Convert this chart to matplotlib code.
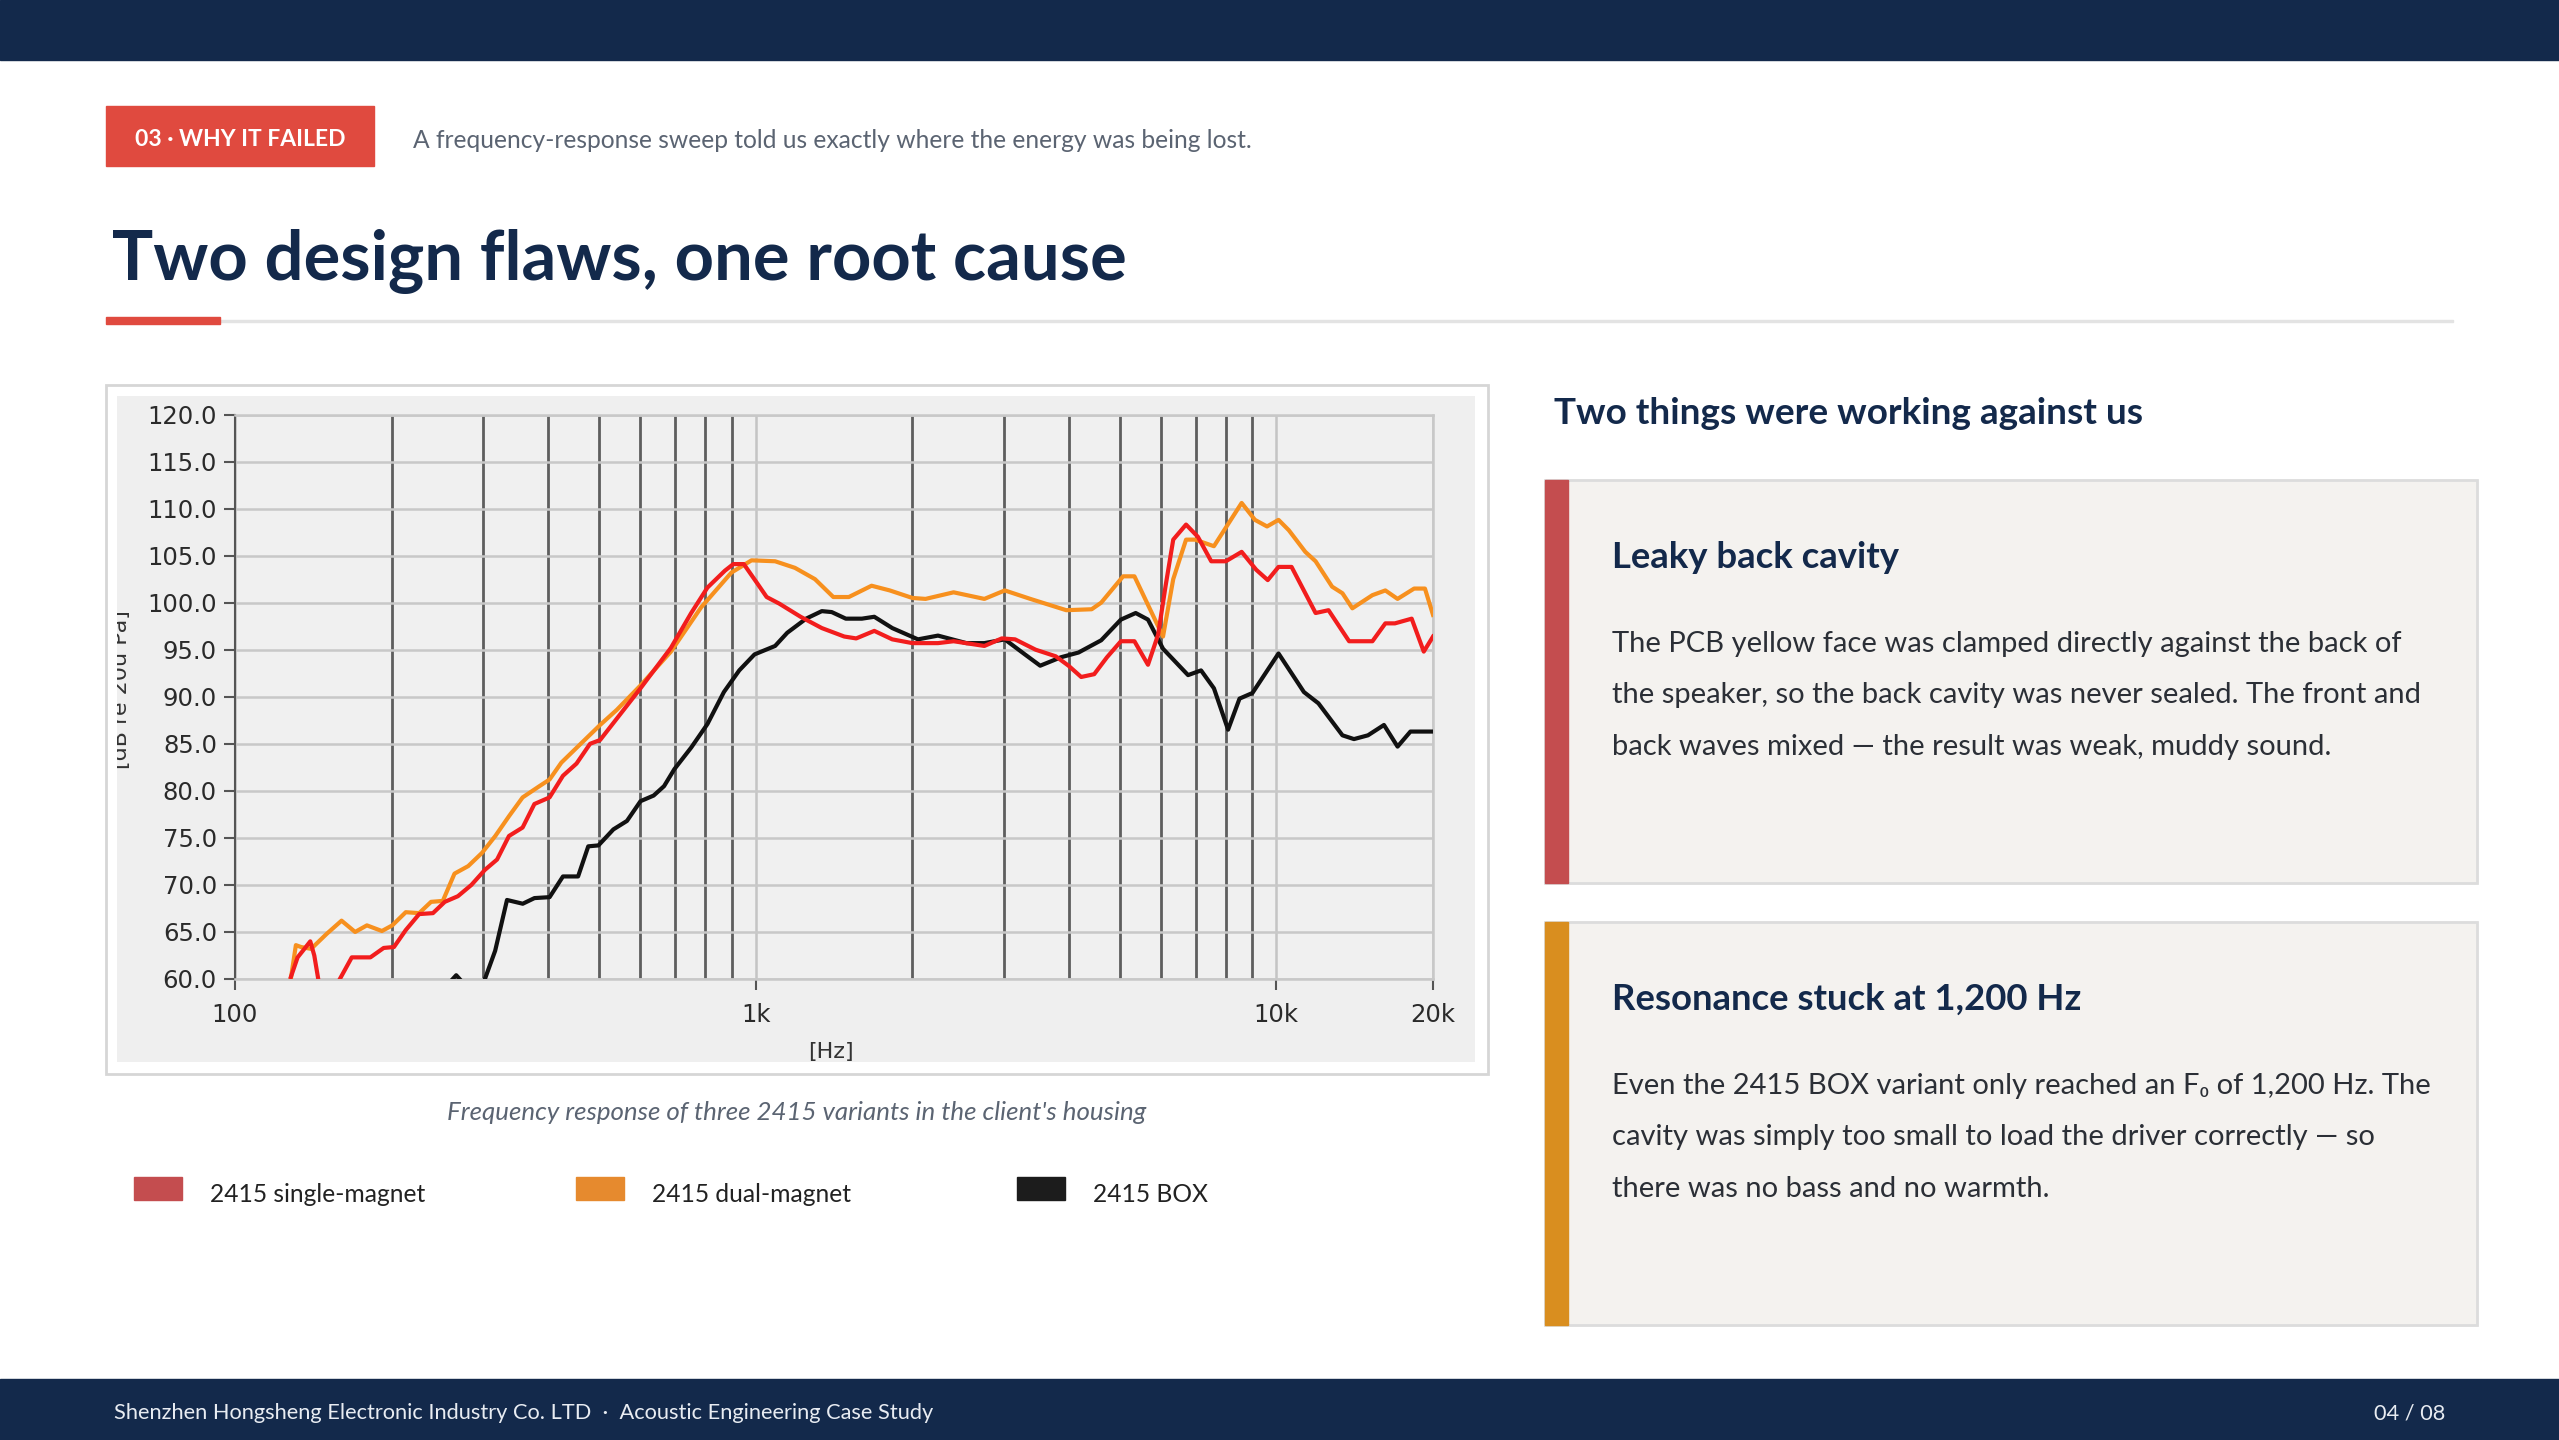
import numpy as np
import matplotlib
matplotlib.use("Agg")
import matplotlib.pyplot as plt
from matplotlib.patches import Rectangle
from matplotlib.ticker import NullFormatter

plt.rcParams['font.family'] = ['Lato', 'DejaVu Sans']

# frequency response readings (Hz, dB re 20uPa)
single_f = [128, 131.9, 135, 139.5, 142, 144.5, np.nan, 159, 167.6, 182, 193, 202, 212.8, 225.8, 240,
            252.9, 268, 284.5, 302, 318.7, 335.9, 356.8, 375.9, 401.9, 426.5, 452.9, 480.8, 502.6, 601,
            687.5, 752, 808, 873, 906, 949, 1000, 1050, 1110, 1220, 1340, 1480, 1560, 1690, 1830, 2000,
            2240, 2400, 2750, 2970, 3150, 3450, 3770, 3990, 4220, 4470, 4730, 5030, 5340, 5670, 5930,
            6130, 6340, 6710, 7070, 7500, 8000, 8580, 9150, 9630, 10100, 10700, 11900, 12600, 13800,
            15300, 16200, 16900, 18200, 19200, 20000]
single_db = [60.2, 62.3, 63.0, 64.0, 62.5, 60.0, np.nan, 60.0, 62.3, 62.3, 63.3, 63.4, 65.2, 66.9, 67.0,
             68.2, 68.8, 70.0, 71.6, 72.7, 75.2, 76.1, 78.6, 79.3, 81.6, 82.9, 85.0, 85.4, 90.9,
             95.2, 98.9, 101.6, 103.4, 104.1, 104.1, 102.3, 100.6, 99.9, 98.5, 97.3, 96.4, 96.2, 97.0, 96.1, 95.7,
             95.7, 95.9, 95.4, 96.2, 96.1, 95.0, 94.3, 93.3, 92.1, 92.4, 94.2, 95.9, 95.9, 93.4, 96.6,
             101.8, 106.7, 108.3, 107.0, 104.4, 104.4, 105.4, 103.5, 102.4, 103.8, 103.8, 98.9, 99.2, 95.9,
             95.9, 97.8, 97.8, 98.3, 94.8, 96.4]

dual_f = [128, 130.9, 133.9, 140, 150, 160.2, 170.1, 179.2, 191.5, 200.5, 212.8, 225.8, 238, 250.7, 264,
          280.5, 298.1, 316.2, 335.9, 356.8, 384.4, 401.9, 423.5, 502.6, 541, 601, 687.5, 785.7, 898.4,
          982, 1090, 1190, 1300, 1410, 1510, 1670, 1810, 2000, 2120, 2400, 2750, 3010, 3370, 3950, 4420,
          4610, 5080, 5340, 6060, 6340, 6710, 6980, 7590, 8580, 9100, 9600, 10100, 10570, 11370, 11900,
          12800, 13400, 14000, 15300, 16200, 17100, 18400, 19300, 20000]
dual_db = [60.0, 63.6, 63.4, 63.2, 64.8, 66.2, 65.0, 65.7, 65.1, 65.7, 67.1, 67.0, 68.2, 68.3, 71.2,
           72.0, 73.4, 75.2, 77.3, 79.3, 80.5, 81.2, 83.0, 87.0, 88.6, 91.2, 94.8, 99.5, 103.2,
           104.5, 104.4, 103.7, 102.5, 100.6, 100.6, 101.8, 101.3, 100.5, 100.4, 101.1, 100.4, 101.3, 100.4, 99.2, 99.3,
           100.0, 102.8, 102.8, 96.4, 102.5, 106.7, 106.7, 106.0, 110.6, 108.8, 108.1, 108.8, 107.7, 105.4, 104.4,
           101.7, 101.0, 99.4, 100.8, 101.3, 100.4, 101.5, 101.5, 98.7]

box_f = [262, 266, 270, np.nan, 302, 316, 333, 357, 376, 402, 426.5, 456, 477, 499, 533, 566, 601, 637,
         667, 698, 752, 808, 869, 930, 995, 1090, 1150, 1250, 1340, 1400, 1490, 1600, 1690, 1830, 2050,
         2240, 2540, 2750, 3010, 3290, 3520, 3860, 4170, 4610, 5030, 5370, 5670, 6060, 6770, 7170, 7590,
         8080, 8500, 9000, 10100, 11300, 12050, 13400, 14100, 15000, 16100, 17100, 18100, 20000]
box_db = [60.0, 60.4, 60.0, np.nan, 60.0, 63.0, 68.4, 68.0, 68.6, 68.7, 70.9, 70.9, 74.1, 74.2, 75.9, 76.8, 78.9, 79.5,
          80.5, 82.3, 84.6, 87.1, 90.5, 92.8, 94.5, 95.4, 96.8, 98.3, 99.1, 99.0, 98.3, 98.3, 98.5, 97.3, 96.1,
          96.5, 95.7, 95.7, 96.1, 94.5, 93.3, 94.2, 94.7, 96.0, 98.2, 98.9, 98.2, 95.1, 92.3, 92.8, 90.9,
          86.5, 89.8, 90.4, 94.6, 90.5, 89.3, 85.9, 85.5, 85.9, 87.0, 84.7, 86.3, 86.3]

series_names = ['2415 single-magnet', '2415 dual-magnet', '2415 BOX']
legend_colors = ['#c44d4f', '#e68a2e', '#1c1c1c']
line_colors = ['#f21d1d', '#f7901e', '#111111']

x_ticks = [100, 1000, 10000, 20000]
x_labels = ['100', '1k', '10k', '20k']
y_ticks = np.arange(60, 121, 5)

navy = '#13294b'
W, H = 2559, 1440

fig = plt.figure(figsize=(W / 100, H / 100), dpi=100)
bg = fig.add_axes([0, 0, 1, 1])
bg.set_xlim(0, W)
bg.set_ylim(H, 0)
bg.axis('off')

# header / footer bars
bg.add_patch(Rectangle((0, 0), W, 60, color=navy))
bg.add_patch(Rectangle((0, 1379), W, 61, color=navy))

# badge + subtitle
bg.add_patch(Rectangle((106, 106), 268, 60, color='#e04a3f'))
bg.text(240, 140, '03 · WHY IT FAILED', color='white', fontsize=16.5, fontweight='bold', ha='center', va='center')
bg.text(413, 140, 'A frequency-response sweep told us exactly where the energy was being lost.',
        color='#5b6472', fontsize=17.7, va='center')

# title
bg.text(112, 261, 'Two design flaws, one root cause', color=navy, fontsize=49.5, fontweight='bold', va='center')
bg.add_patch(Rectangle((220, 320), 2233, 2, color='#e3e3e3'))
bg.add_patch(Rectangle((106, 317), 114, 7, color='#e04a3f'))

# chart frame
bg.add_patch(Rectangle((106, 385), 1382, 689, facecolor='white', edgecolor='#d6d6d6', lw=2))
inner = Rectangle((117, 396), 1358, 666, facecolor='#efefef', edgecolor='none')
bg.add_patch(inner)

ylab = bg.text(121, 690, '[dB re 20u Pa]', rotation=90, fontsize=16, color='#333333',
               family='DejaVu Sans', ha='center', va='center', clip_on=True)
ylab.set_clip_path(inner)
xlab = bg.text(831, 1052, '[Hz]', fontsize=16, color='#333333', family='DejaVu Sans',
               ha='center', va='center', clip_on=True)
xlab.set_clip_path(inner)

ax = fig.add_axes([235 / W, 1 - 979 / H, 1198 / W, (979 - 414.5) / H])
ax.set_facecolor('#f0f0f0')
ax.set_xscale('log')
ax.set_xlim(100, 20000)
ax.set_ylim(60, 120)

ax.plot(box_f, box_db, color=line_colors[2], lw=3, zorder=3)
ax.plot(dual_f, dual_db, color=line_colors[1], lw=3, zorder=4)
ax.plot(single_f, single_db, color=line_colors[0], lw=3, zorder=5)

ax.set_xticks(x_ticks)
ax.set_xticklabels(x_labels)
minor = [m * d for d in (100, 1000) for m in range(2, 10)]
ax.set_xticks(minor, minor=True)
ax.xaxis.set_minor_formatter(NullFormatter())
ax.set_yticks(y_ticks)
ax.set_yticklabels(['%.1f' % v for v in y_ticks])

ax.set_axisbelow(True)
ax.grid(which='minor', axis='x', color='#5e5e5e', lw=2.0)
ax.grid(which='major', axis='x', color='#c4c4c4', lw=1.8)
ax.grid(which='major', axis='y', color='#c8c8c8', lw=1.8)

ax.tick_params(which='minor', length=0)
ax.tick_params(which='major', length=8, width=1.5, color='#555555', labelcolor='#2a2a2a',
               labelsize=17.5, pad=5)
ax.tick_params(axis='x', pad=9)
for lab in ax.get_xticklabels() + ax.get_yticklabels():
    lab.set_family('DejaVu Sans')
for s in ['top', 'right', 'bottom']:
    ax.spines[s].set_color('#c8c8c8')
    ax.spines[s].set_linewidth(1.8)
ax.spines['left'].set_color('#555555')
ax.spines['left'].set_linewidth(1.5)

# caption + legend
bg.text(797, 1112, "Frequency response of three 2415 variants in the client's housing",
        color='#5b6472', fontsize=18.6, style='italic', ha='center', va='center')
for name, col, x0 in zip(series_names, legend_colors, [134, 576, 1017]):
    bg.add_patch(Rectangle((x0, 1177), 48, 23, color=col))
    bg.text(x0 + 76, 1194, name, color='#222222', fontsize=17.7, va='center')

# right column
bg.text(1554, 414, 'Two things were working against us', color=navy, fontsize=26.6, fontweight='bold', va='center')

cards = [
    (480, '#c44d4f', 'Leaky back cavity',
     ['The PCB yellow face was clamped directly against the back of',
      'the speaker, so the back cavity was never sealed. The front and',
      'back waves mixed \u2014 the result was weak, muddy sound.']),
    (922, '#d98e1f', 'Resonance stuck at 1,200 Hz',
     ['Even the 2415 BOX variant only reached an F\u2080 of 1,200 Hz. The',
      'cavity was simply too small to load the driver correctly \u2014 so',
      'there was no bass and no warmth.']),
]
for top, accent, head, lines in cards:
    bg.add_patch(Rectangle((1545, top), 932, 403, facecolor='#f4f2ef', edgecolor='#dcdcdc', lw=2))
    bg.add_patch(Rectangle((1545, top), 23, 403, color=accent))
    bg.text(1612, top + 77, head, color=navy, fontsize=26.3, fontweight='bold', va='center')
    for i, ln in enumerate(lines):
        bg.text(1612, top + 164 + i * 51.5, ln, color='#2b2f36', fontsize=21, va='center')

# footer text
bg.text(114, 1413, 'Shenzhen Hongsheng Electronic Industry Co. LTD  \u00b7  Acoustic Engineering Case Study',
        color='#e8ecf2', fontsize=15.7, va='center')
bg.text(2445, 1413, '04 / 08', color='#e8ecf2', fontsize=15.7, ha='right', va='center')

fig.savefig('out.png', dpi=100)
